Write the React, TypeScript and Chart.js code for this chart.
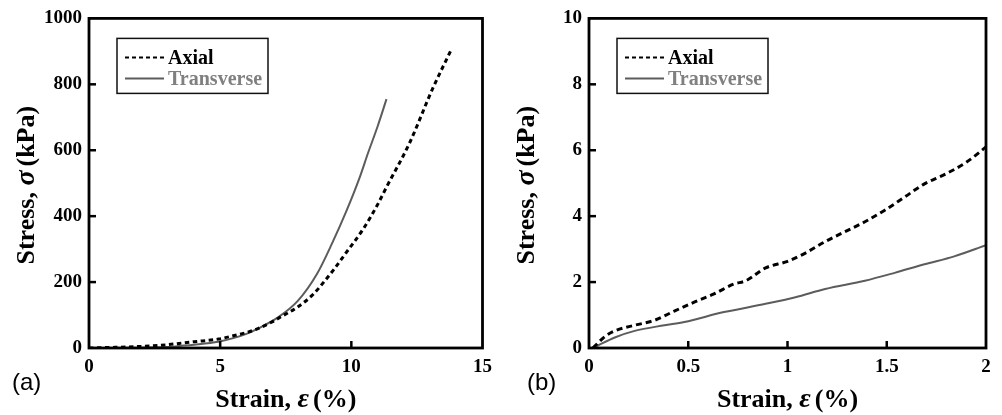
import React, { useEffect, useRef } from "react";
import { Chart, registerables } from "chart.js";

Chart.register(...registerables);

// ---- Panel (a) data: large strain ----
const strainAxialA = [0, 1, 2, 3, 3.43, 4, 4.93, 5.5, 6, 6.44, 7, 7.3, 7.95, 8.56, 9, 9.33, 9.81, 10.46, 11, 11.34, 12.22, 13.1, 13.82];
const stressAxialA = [0, 2, 5, 10, 14, 19, 27, 37, 47, 59, 80, 94, 124, 164, 205, 238, 290, 362, 435, 488, 622, 787, 907];
const strainTransA = [0, 2, 3, 3.43, 4, 4.93, 5.5, 6, 6.44, 7.19, 7.95, 8.7, 9.27, 9.81, 10.33, 10.63, 11.0, 11.34];
const stressTransA = [0, 1, 3, 6, 10, 19, 30, 43, 59, 92, 142, 226, 318, 415, 520, 590, 672, 755];

// ---- Panel (b) data: small strain ----
const strainAxialB = [0.02, 0.04, 0.08, 0.13, 0.23, 0.33, 0.43, 0.53, 0.63, 0.73, 0.79, 0.89, 1.0, 1.09, 1.19, 1.29, 1.39, 1.49, 1.59, 1.69, 1.78, 1.9, 2.0];
const stressAxialB = [0, 0.12, 0.35, 0.52, 0.69, 0.84, 1.12, 1.39, 1.64, 1.94, 2.04, 2.43, 2.63, 2.88, 3.23, 3.53, 3.83, 4.18, 4.58, 4.98, 5.23, 5.63, 6.1];
const strainTransB = [0.02, 0.04, 0.13, 0.23, 0.38, 0.48, 0.68, 0.89, 1.04, 1.19, 1.39, 1.54, 1.69, 1.84, 2.0];
const stressTransB = [0, 0.06, 0.32, 0.52, 0.69, 0.79, 1.09, 1.34, 1.54, 1.79, 2.04, 2.28, 2.54, 2.78, 3.12];

// ---- axes ----
const xRangeA = [0, 15];
const xStepA = 5;
const yRangeA = [0, 1000];
const yStepA = 200;
const xRangeB = [0, 2];
const xStepB = 0.5;
const yRangeB = [0, 10];
const yStepB = 2;

const seriesNames = ["Axial", "Transverse"];
const panelLabels = ["(a)", "(b)"];
const xTitle = ["Strain, ", "ε", "(%)"];
const yTitle = ["Stress, ", "σ", "(kPa)"];

const SERIF = "'Liberation Serif', 'Times New Roman', serif";
const SANS = "'Liberation Sans', Arial, sans-serif";
const TRANS_COLOR = "#5c5c5c";
const TRANS_TEXT = "#808080";

const toPts = (xs: number[], ys: number[]) => xs.map((x, i) => ({ x, y: ys[i] }));

type Seg = { text: string; font: string; gapAfter?: number };

function drawSegs(ctx: CanvasRenderingContext2D, segs: Seg[], cx: number, baseline: number) {
  let total = 0;
  const widths = segs.map((s) => {
    ctx.font = s.font;
    const w = ctx.measureText(s.text).width;
    total += w + (s.gapAfter || 0);
    return w;
  });
  let x = cx - total / 2;
  ctx.textAlign = "left";
  ctx.textBaseline = "alphabetic";
  segs.forEach((s, i) => {
    ctx.font = s.font;
    ctx.fillText(s.text, x, baseline);
    x += widths[i] + (s.gapAfter || 0);
  });
}

const decorPlugin = {
  id: "decor",
  afterDatasetsDraw(chart: any, _args: any, opts: any) {
    const ctx: CanvasRenderingContext2D = chart.ctx;
    const { left, right, top, bottom } = chart.chartArea;
    const xs = chart.scales.x;
    const ys = chart.scales.y;
    ctx.save();
    ctx.strokeStyle = "#000";
    ctx.fillStyle = "#000";
    // inward ticks
    ctx.lineWidth = 2.5;
    const tl = 7;
    xs.ticks.forEach((t: any) => {
      const px = xs.getPixelForValue(t.value);
      if (px <= left + 2 || px >= right - 2) return;
      ctx.beginPath();
      ctx.moveTo(px, bottom);
      ctx.lineTo(px, bottom - tl);
      ctx.stroke();
    });
    ys.ticks.forEach((t: any) => {
      const py = ys.getPixelForValue(t.value);
      if (py <= top + 2 || py >= bottom - 2) return;
      ctx.beginPath();
      ctx.moveTo(left, py);
      ctx.lineTo(left + tl, py);
      ctx.stroke();
    });
    // frame
    ctx.lineWidth = 2.8;
    ctx.strokeRect(left, top, right - left, bottom - top);

    // legend box
    const lx = left + 28;
    const ly = top + 20;
    const lw = 151;
    const lh = 55;
    ctx.fillStyle = "#fff";
    ctx.fillRect(lx, ly, lw, lh);
    ctx.lineWidth = 1.5;
    ctx.strokeStyle = "#111";
    ctx.strokeRect(lx, ly, lw, lh);
    const ds = chart.data.datasets;
    const rows = [ly + 19, ly + 40];
    ds.forEach((d: any, i: number) => {
      const ry = rows[i];
      ctx.beginPath();
      ctx.setLineDash(i === 0 ? [4, 3] : []);
      ctx.lineWidth = 2;
      ctx.strokeStyle = d.borderColor;
      ctx.moveTo(lx + 8, ry);
      ctx.lineTo(lx + 47, ry);
      ctx.stroke();
      ctx.setLineDash([]);
      ctx.font = `bold 20px ${SERIF}`;
      ctx.fillStyle = i === 0 ? "#000" : TRANS_TEXT;
      ctx.textAlign = "left";
      ctx.textBaseline = "middle";
      ctx.fillText(d.label, lx + 51, ry + 1);
    });

    // axis titles
    ctx.fillStyle = "#000";
    const cx = (left + right) / 2;
    drawSegs(
      ctx,
      [
        { text: xTitle[0], font: `bold 26px ${SERIF}` },
        { text: xTitle[1], font: `italic bold 28px ${SERIF}`, gapAfter: 4 },
        { text: xTitle[2], font: `bold 26px ${SERIF}` },
      ],
      cx,
      407
    );
    ctx.save();
    ctx.translate(left - 55, (top + bottom) / 2 + 2);
    ctx.rotate(-Math.PI / 2);
    drawSegs(
      ctx,
      [
        { text: yTitle[0], font: `bold 26px ${SERIF}` },
        { text: yTitle[1], font: `italic bold 28px ${SERIF}`, gapAfter: 4 },
        { text: yTitle[2], font: `bold 26px ${SERIF}` },
      ],
      0,
      0
    );
    ctx.restore();

    // panel label
    ctx.font = `24px ${SANS}`;
    ctx.textAlign = "left";
    ctx.textBaseline = "middle";
    ctx.fillStyle = "#000";
    ctx.fillText(opts.label, opts.labelX, 383);
    ctx.restore();
  },
};

type PanelProps = {
  width: number;
  left: number;
  rightPad: number;
  xr: number[];
  xStep: number;
  yr: number[];
  yStep: number;
  axial: { x: number; y: number }[];
  trans: { x: number; y: number }[];
  dash: number[];
  label: string;
  labelX: number;
};

function Panel(p: PanelProps) {
  const ref = useRef<HTMLCanvasElement | null>(null);
  useEffect(() => {
    if (!ref.current) return;
    const chart = new Chart(ref.current, {
      type: "line",
      data: {
        datasets: [
          {
            label: seriesNames[0],
            data: p.axial,
            borderColor: "#000",
            borderWidth: 3,
            borderDash: p.dash,
            pointRadius: 0,
            cubicInterpolationMode: "monotone",
            fill: false,
          },
          {
            label: seriesNames[1],
            data: p.trans,
            borderColor: TRANS_COLOR,
            borderWidth: 2,
            pointRadius: 0,
            cubicInterpolationMode: "monotone",
            fill: false,
          },
        ],
      },
      options: {
        animation: false,
        responsive: false,
        maintainAspectRatio: false,
        events: [],
        layout: { padding: { top: 13, right: p.rightPad, left: 0, bottom: 0 } },
        plugins: {
          legend: { display: false },
          tooltip: { enabled: false },
          title: { display: false },
          decor: { label: p.label, labelX: p.labelX },
        } as any,
        scales: {
          x: {
            type: "linear",
            min: p.xr[0],
            max: p.xr[1],
            grid: { display: false, drawTicks: false },
            border: { display: false },
            ticks: {
              stepSize: p.xStep,
              padding: 8,
              color: "#000",
              font: { family: SERIF, size: 19, weight: "bold" },
              maxRotation: 0,
              callback: (v: any) => String(v),
            },
            afterFit: (s: any) => {
              s.height = 415 - 348;
            },
          },
          y: {
            type: "linear",
            min: p.yr[0],
            max: p.yr[1],
            grid: { display: false, drawTicks: false },
            border: { display: false },
            ticks: {
              stepSize: p.yStep,
              padding: 7,
              color: "#000",
              font: { family: SERIF, size: 19, weight: "bold" },
              callback: (v: any) => String(v),
            },
            afterFit: (s: any) => {
              s.width = 89;
            },
          },
        },
      } as any,
      plugins: [decorPlugin],
    });
    return () => chart.destroy();
  }, []);
  return (
    <canvas
      ref={ref}
      width={p.width}
      height={415}
      style={{ position: "absolute", left: p.left, top: 0, width: p.width, height: 415 }}
    />
  );
}

export default function App() {
  return (
    <div style={{ position: "absolute", left: 0, top: 0, width: 1002, height: 415, background: "#fff" }}>
      <Panel
        width={500}
        left={0}
        rightPad={13}
        xr={xRangeA}
        xStep={xStepA}
        yr={yRangeA}
        yStep={yStepA}
        axial={toPts(strainAxialA, stressAxialA)}
        trans={toPts(strainTransA, stressTransA)}
        dash={[4.5, 3.5]}
        label={panelLabels[0]}
        labelX={12}
      />
      <Panel
        width={502}
        left={500}
        rightPad={16}
        xr={xRangeB}
        xStep={xStepB}
        yr={yRangeB}
        yStep={yStepB}
        axial={toPts(strainAxialB, stressAxialB)}
        trans={toPts(strainTransB, stressTransB)}
        dash={[6, 4]}
        label={panelLabels[1]}
        labelX={27}
      />
    </div>
  );
}
